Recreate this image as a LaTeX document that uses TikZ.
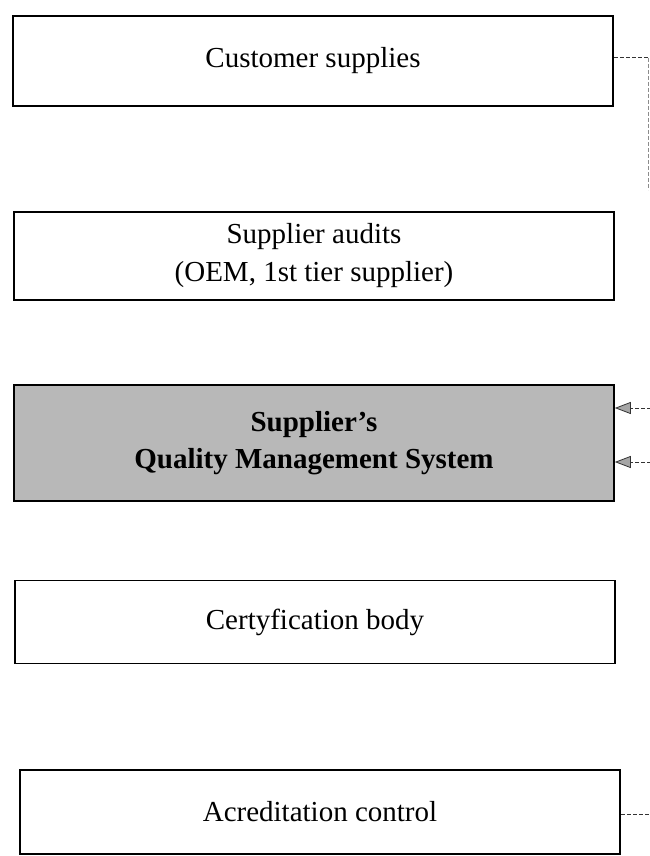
\documentclass[tikz,border=0pt]{standalone}
\usepackage{fontspec}
\setmainfont{Liberation Serif}
\usetikzlibrary{arrows.meta}
\begin{document}
\begin{tikzpicture}[x=1pt,y=-1pt,
  box/.style={draw=black, line width=1.6pt, minimum width=600pt, inner sep=0pt,
    align=center, font=\fontsize{29}{38}\selectfont},
  qmsbox/.style={box, fill=black!28, font=\fontsize{29}{37}\selectfont\bfseries},
  link/.style={draw=black!80, line width=1pt, dash pattern=on 4pt off 2pt},
  arr/.style={link, -{Triangle[length=16pt,width=12pt,fill=black!35,line width=0.8pt]}}
]
\useasboundingbox (0,0) rectangle (649,856);
\node[box, minimum height=90pt] (cust) at (313,61) {Customer supplies};
\node[box, minimum height=88pt] (audit) at (314,256) {Supplier audits\\(OEM, 1st tier supplier)};
\node[qmsbox, minimum height=116pt] (qms) at (314,443) {Supplier's\\Quality Management System};
\node[box, minimum height=83pt] (cert) at (315,622) {Certyfication body};
\node[box, minimum height=84pt] (acr) at (320,812) {Acreditation control};
\coordinate (c1) at (648,58);
\coordinate (c2) at (648,190);
\coordinate (q1) at (651,408);
\coordinate (q2) at (651,462);
\coordinate (a1) at (651,814);
\draw[link] (cust.east |- c1) -- (c1);
\draw[link, draw=black!45] (c1) -- (c2);
\draw[arr] (q1) -- (q1 -| qms.east);
\draw[arr] (q2) -- (q2 -| qms.east);
\draw[link] (a1 -| acr.east) -- (a1);
\end{tikzpicture}
\end{document}
